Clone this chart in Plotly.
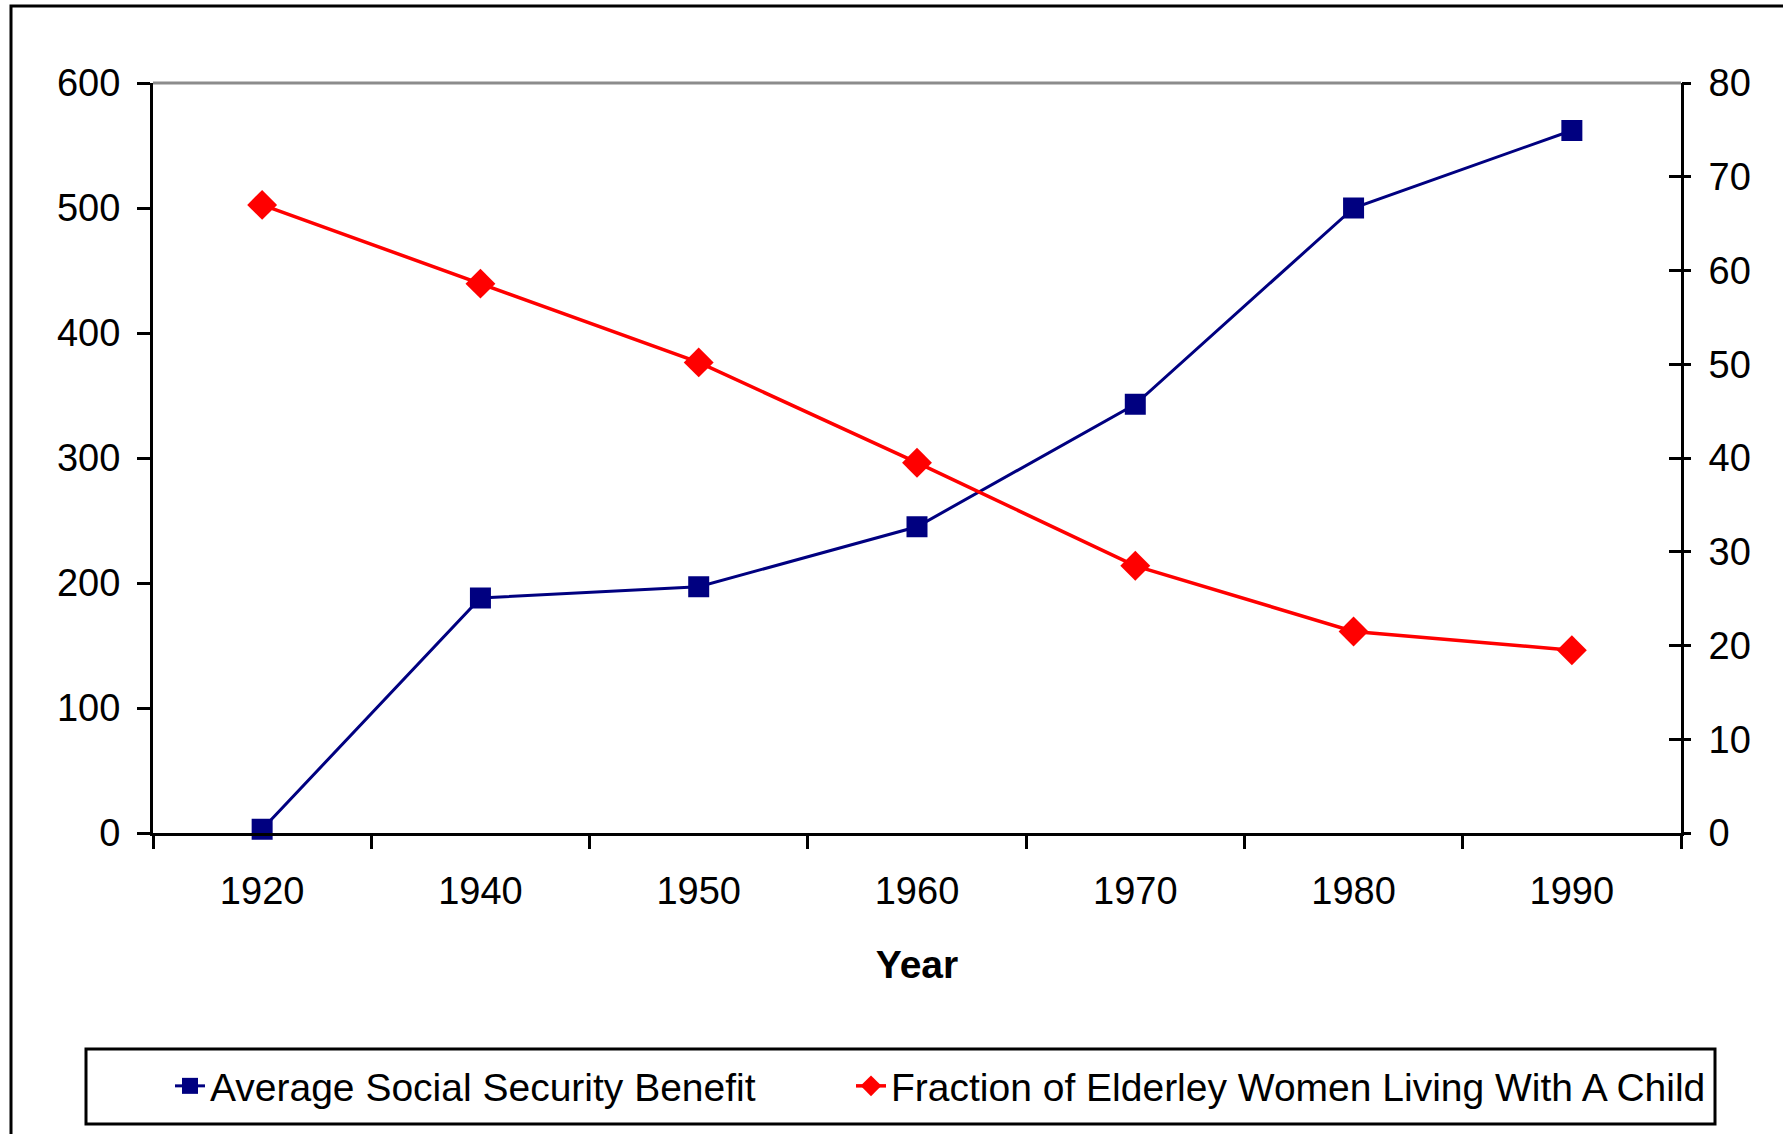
import plotly.graph_objects as go

# Census years (category axis)
years = ["1920", "1940", "1950", "1960", "1970", "1980", "1990"]

# Average monthly Social Security benefit (left axis)
avg_benefit = [3, 188, 197, 245, 343, 500, 562]

# Percent of elderly women living with a child (right axis)
pct_with_child = [67, 58.6, 50.2, 39.5, 28.5, 21.5, 19.5]

left_ticks = [0, 100, 200, 300, 400, 500, 600]
right_ticks = [0, 10, 20, 30, 40, 50, 60, 70, 80]

FONT = "Liberation Sans, Arial, Helvetica, sans-serif"
NAVY = "#000080"
RED = "#FF0000"

W, H = 1783, 1134
ML, MR, MT, MB = 153, 102, 83, 301
PW, PH = W - ML - MR, H - MT - MB


def px_x(px):
    return (px - ML) / PW


def px_y(py):
    return (H - MB - py) / PH


fig = go.Figure()

fig.add_trace(go.Scatter(
    x=years, y=avg_benefit, name="Average Social Security Benefit",
    mode="lines+markers", yaxis="y", cliponaxis=False, legend="legend",
    line=dict(color=NAVY, width=3),
    marker=dict(symbol="square", size=21, color=NAVY),
))

fig.add_trace(go.Scatter(
    x=years, y=pct_with_child, name="Fraction of Elderley Women Living With A Child",
    mode="lines+markers", yaxis="y2", cliponaxis=False, legend="legend2",
    line=dict(color=RED, width=3.5),
    marker=dict(symbol="diamond", size=23, color=RED),
))

# empty traces so the tick-only overlay axes get drawn
for ax in ("y3", "y4"):
    fig.add_trace(go.Scatter(x=[], y=[], yaxis=ax, showlegend=False, hoverinfo="skip"))

axis_font = dict(family=FONT, size=38, color="black")
legend_font = dict(family=FONT, size=39, color="black")

# tick-only overlays used to build the cross ticks of the secondary axis
tick_overlay = dict(
    range=[0, 80], tickmode="array", tickvals=right_ticks,
    overlaying="y", side="right", anchor="x",
    showline=False, tickwidth=3, tickcolor="black",
    showticklabels=False, showgrid=False, zeroline=False,
)

fig.update_layout(
    width=W, height=H, autosize=False,
    margin=dict(l=ML, r=MR, t=MT, b=MB, pad=0),
    paper_bgcolor="white", plot_bgcolor="white",
    font=dict(family=FONT, size=38, color="black"),
    showlegend=True,
    xaxis=dict(
        type="category", range=[-0.5, 6.5],
        showline=True, linecolor="black", linewidth=3,
        ticks="outside", tickson="boundaries", ticklen=13, tickwidth=3, tickcolor="black",
        ticklabelstandoff=22,
        tickfont=axis_font, showgrid=False, zeroline=False,
        title=dict(text="<b>Year</b>", font=dict(family=FONT, size=39, color="black"), standoff=41),
    ),
    yaxis=dict(
        range=[0, 600], tickmode="array", tickvals=left_ticks,
        showline=True, linecolor="black", linewidth=3,
        ticks="outside", ticklen=13, tickwidth=3, tickcolor="black",
        ticklabelstandoff=9,
        tickfont=axis_font, showgrid=False, zeroline=False,
    ),
    # secondary axis: line and labels (tick marks come from the overlays)
    yaxis2=dict(
        range=[0, 80], tickmode="array", tickvals=right_ticks,
        overlaying="y", side="right", anchor="x",
        showline=True, linecolor="black", linewidth=3,
        ticks="outside", ticklen=17, tickwidth=3, tickcolor="rgba(0,0,0,0)",
        tickfont=axis_font, showgrid=False, zeroline=False,
    ),
    yaxis3=dict(tick_overlay, ticks="inside", ticklen=12),
    yaxis4=dict(tick_overlay, ticks="outside", ticklen=9),
    legend=dict(
        orientation="h", x=px_x(170), y=px_y(1086), xanchor="left", yanchor="middle",
        font=legend_font, bgcolor="rgba(0,0,0,0)", borderwidth=0,
    ),
    legend2=dict(
        orientation="h", x=px_x(851), y=px_y(1086), xanchor="left", yanchor="middle",
        font=legend_font, bgcolor="rgba(0,0,0,0)", borderwidth=0,
    ),
    shapes=[
        # chart-area frame
        dict(type="rect", xref="paper", yref="paper",
             x0=px_x(11), x1=px_x(1800), y0=px_y(1150), y1=px_y(6),
             line=dict(color="black", width=3), fillcolor="rgba(0,0,0,0)", layer="below"),
        # plot-area top border
        dict(type="line", xref="paper", yref="paper", x0=0, x1=1, y0=1, y1=1,
             line=dict(color="#8c8c8c", width=3), layer="below"),
        # legend frame
        dict(type="rect", xref="paper", yref="paper",
             x0=px_x(86), x1=px_x(1715), y0=px_y(1124), y1=px_y(1049),
             line=dict(color="black", width=3), fillcolor="rgba(0,0,0,0)"),
    ],
)

fig.write_html("out.html")
